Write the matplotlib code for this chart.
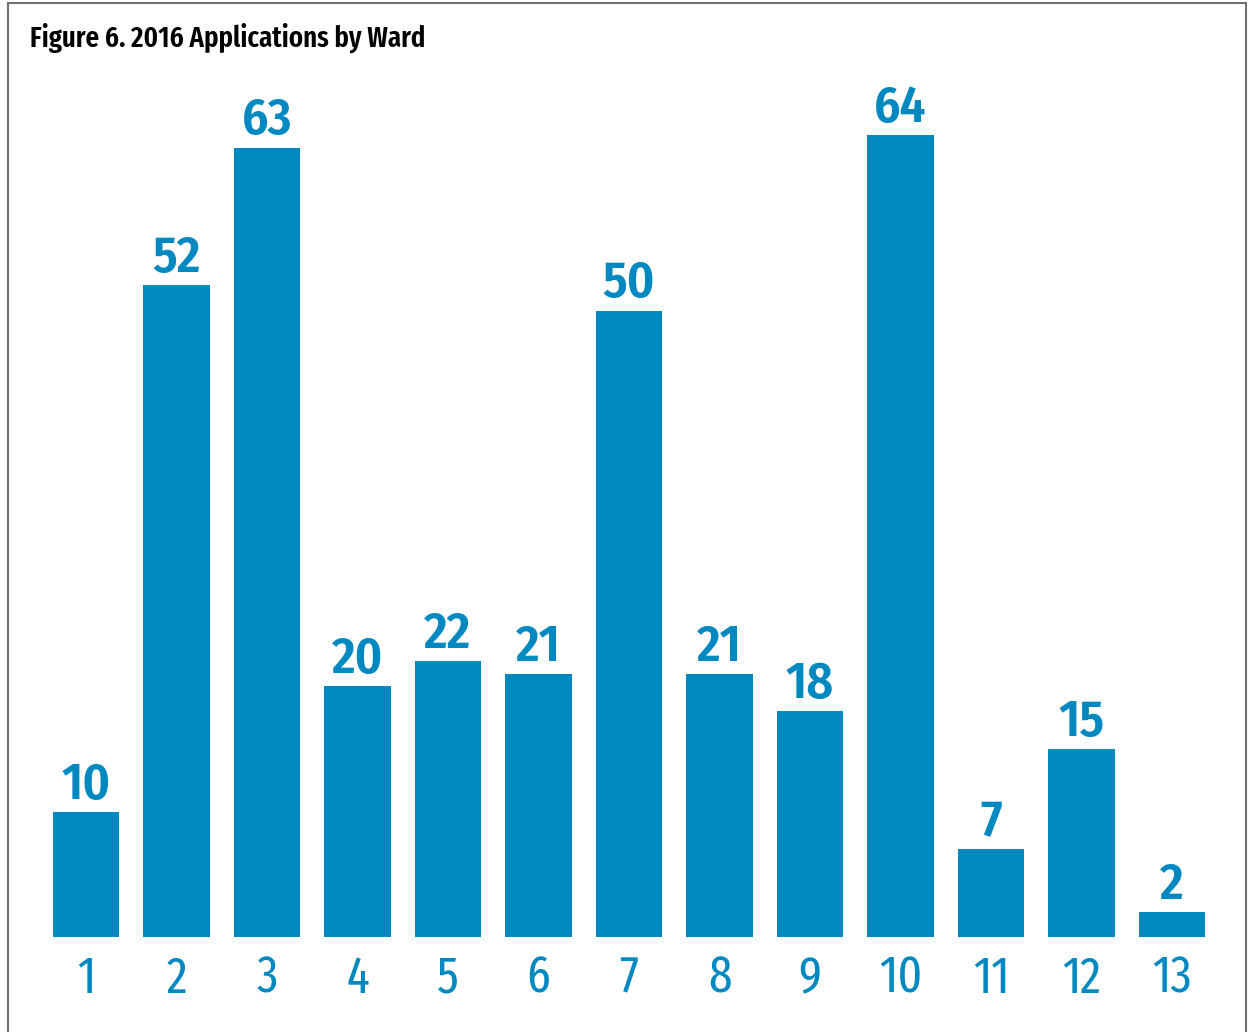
import matplotlib
matplotlib.use("Agg")
import matplotlib.pyplot as plt
from matplotlib.lines import Line2D

wards = [str(i) for i in range(1, 14)]
applications = [10, 52, 63, 20, 22, 21, 50, 21, 18, 64, 7, 15, 2]
title = "Figure 6. 2016 Applications by Ward"

cond = ["Fira Sans Condensed", "Fira Sans Extra Condensed", "Barlow Condensed", "DejaVu Sans"]
xcond = ["Fira Sans Extra Condensed", "Fira Sans Condensed", "Barlow Condensed", "DejaVu Sans"]

blue = "#0089C0"
W, H = 1248, 1032
fig = plt.figure(figsize=(W / 100, H / 100), dpi=100)

ax_left = 40.75 / W
ax_right = 1217.25 / W
ax_bottom = (H - 937) / H
ax_top = (H - 80) / H
ax = fig.add_axes([ax_left, ax_bottom, ax_right - ax_left, ax_top - ax_bottom])

x = list(range(1, 14))
ax.bar(x, applications, width=0.73, color=blue)
ax.set_xlim(0.5, 13.5)
ax.set_ylim(0, (937 - 80) / 12.53)
for xi, v in zip(x, applications):
    ax.annotate(str(v), (xi, v), xytext=(0, 9.5), textcoords="offset points",
                ha="center", va="baseline", fontsize=37, fontweight="semibold",
                color=blue, family=cond)
ax.set_xticks(x)
ax.set_xticklabels(wards, fontsize=37, color=blue, family=xcond, fontweight="normal")
ax.tick_params(axis="x", length=0, pad=12)
ax.set_yticks([])
for s in ax.spines.values():
    s.set_visible(False)

fig.text(30 / W, 1 - 47 / H, title, fontsize=21, fontweight="semibold",
         family=xcond, color="black", ha="left", va="baseline")

lc = "#707070"
fig.add_artist(Line2D([8 / W, 1246 / W], [1 - 3 / H, 1 - 3 / H], color=lc, lw=1.5, transform=fig.transFigure))
fig.add_artist(Line2D([8 / W, 8 / W], [0, 1 - 3 / H], color=lc, lw=1.5, transform=fig.transFigure))
fig.add_artist(Line2D([1246 / W, 1246 / W], [0, 1 - 3 / H], color=lc, lw=1.5, transform=fig.transFigure))

fig.savefig("out.png", dpi=100)
